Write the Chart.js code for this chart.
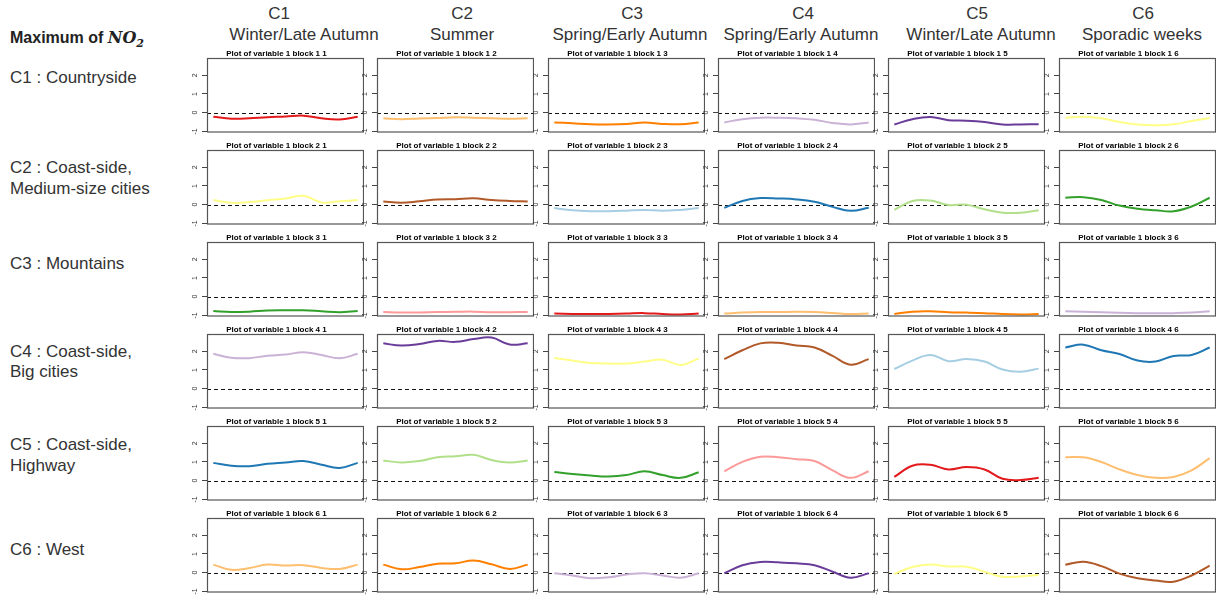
<!DOCTYPE html>
<html>
<head>
<meta charset="utf-8">
<script src="https://cdn.jsdelivr.net/npm/chart.js@4.4.1/dist/chart.umd.min.js"></script>
<style>
  body { margin: 0; background: #fff; width: 1219px; height: 596px; overflow: hidden; position: relative;
         font-family: "Liberation Sans", Arial, sans-serif; color: #333; }
  .lbl { position: absolute; left: 10px; font-size: 17px; line-height: 20px; white-space: nowrap; }
  .hd { position: absolute; font-size: 17px; line-height: 20px; white-space: nowrap; transform: translateX(-50%); }
  canvas { position: absolute; }
</style>
</head>
<body>
<div class="lbl" style="top:28px;font-weight:bold;font-size:16px;color:#222">Maximum of <i style="font-family:'DejaVu Serif',serif;font-weight:bold">NO<sub style="font-size:11px">2</sub></i></div>
<script>
var colHeads = ["C1", "C2", "C3", "C4", "C5", "C6"];
var colNames = ["Winter/Late Autumn", "Summer", "Spring/Early Autumn", "Spring/Early Autumn", "Winter/Late Autumn", "Sporadic weeks"];
var rowNames = [
  ["C1 : Countryside"],
  ["C2 : Coast-side,", "Medium-size cities"],
  ["C3 : Mountains"],
  ["C4 : Coast-side,", "Big cities"],
  ["C5 : Coast-side,", "Highway"],
  ["C6 : West"]
];
var yTicks = [-1, 0, 1, 2];
var refValue = 0;
var weeks = [0, 1, 2, 3, 4, 5, 6, 7, 8];

var row1 = [
  [-0.22, -0.32, -0.3, -0.24, -0.21, -0.16, -0.3, -0.36, -0.22],
  [-0.3, -0.35, -0.31, -0.28, -0.25, -0.27, -0.3, -0.33, -0.3],
  [-0.52, -0.57, -0.62, -0.63, -0.6, -0.52, -0.6, -0.62, -0.52],
  [-0.52, -0.35, -0.27, -0.27, -0.3, -0.38, -0.55, -0.63, -0.52],
  [-0.63, -0.35, -0.23, -0.4, -0.43, -0.5, -0.63, -0.63, -0.62],
  [-0.28, -0.22, -0.3, -0.5, -0.63, -0.67, -0.62, -0.45, -0.28]
];
var row2 = [
  [0.25, 0.1, 0.14, 0.24, 0.33, 0.47, 0.12, 0.18, 0.25],
  [0.17, 0.1, 0.18, 0.27, 0.29, 0.34, 0.25, 0.2, 0.17],
  [-0.18, -0.3, -0.35, -0.35, -0.32, -0.28, -0.33, -0.28, -0.18],
  [-0.17, 0.2, 0.35, 0.33, 0.28, 0.15, -0.12, -0.33, -0.17],
  [-0.28, 0.2, 0.22, -0.02, 0.0, -0.25, -0.43, -0.43, -0.3],
  [0.37, 0.4, 0.25, -0.05, -0.22, -0.3, -0.35, -0.1, 0.37]
];
var row3 = [
  [-0.77, -0.82, -0.8, -0.74, -0.73, -0.73, -0.78, -0.83, -0.77],
  [-0.82, -0.84, -0.84, -0.82, -0.81, -0.8, -0.83, -0.83, -0.82],
  [-0.9, -0.92, -0.93, -0.92, -0.9, -0.88, -0.93, -0.95, -0.9],
  [-0.9, -0.85, -0.82, -0.82, -0.81, -0.82, -0.87, -0.93, -0.9],
  [-0.93, -0.8, -0.78, -0.83, -0.85, -0.88, -0.93, -0.95, -0.93],
  [-0.78, -0.8, -0.83, -0.86, -0.88, -0.89, -0.88, -0.85, -0.78]
];
var row4 = [
  [1.86, 1.65, 1.63, 1.76, 1.82, 1.95, 1.8, 1.62, 1.86],
  [2.42, 2.3, 2.38, 2.55, 2.5, 2.65, 2.73, 2.36, 2.42],
  [1.64, 1.5, 1.37, 1.34, 1.34, 1.45, 1.55, 1.26, 1.62],
  [1.58, 2.05, 2.42, 2.45, 2.3, 2.2, 1.75, 1.28, 1.58],
  [1.05, 1.5, 1.8, 1.47, 1.58, 1.45, 1.02, 0.9, 1.07],
  [2.2, 2.35, 2.05, 1.85, 1.5, 1.45, 1.75, 1.8, 2.2]
];
var row5 = [
  [0.95, 0.8, 0.77, 0.9, 0.97, 1.05, 0.85, 0.68, 0.95],
  [1.08, 0.97, 1.05, 1.25, 1.3, 1.38, 1.1, 0.97, 1.08],
  [0.46, 0.35, 0.27, 0.22, 0.3, 0.5, 0.3, 0.15, 0.45],
  [0.5, 1.0, 1.28, 1.25, 1.15, 1.05, 0.55, 0.15, 0.5],
  [0.2, 0.8, 0.85, 0.6, 0.73, 0.6, 0.1, 0.03, 0.15],
  [1.25, 1.25, 1.0, 0.6, 0.3, 0.15, 0.2, 0.55, 1.2]
];
var row6 = [
  [0.43, 0.15, 0.25, 0.43, 0.38, 0.4, 0.25, 0.2, 0.43],
  [0.43, 0.18, 0.3, 0.48, 0.5, 0.65, 0.45, 0.2, 0.43],
  [-0.03, -0.15, -0.3, -0.25, -0.1, -0.03, -0.15, -0.27, -0.03],
  [-0.03, 0.4, 0.57, 0.55, 0.5, 0.4, 0.05, -0.27, -0.03],
  [-0.07, 0.3, 0.43, 0.33, 0.32, 0.05, -0.22, -0.2, -0.12],
  [0.42, 0.58, 0.35, -0.05, -0.3, -0.42, -0.48, -0.15, 0.38]
];

var red = "#E31A1C", ltOrange = "#FDBF6F", orange = "#FF7F00", ltPurple = "#CAB2D6", purple = "#6A3D9A",
    yellow = "#FFFF88", ltBlue = "#A6CEE3", blue = "#1F78B4", ltGreen = "#B2DF8A", green = "#33A02C",
    pink = "#FB9A99", brown = "#B15928";
var row1Colors = [red, ltOrange, orange, ltPurple, purple, yellow];
var row2Colors = [yellow, brown, ltBlue, blue, ltGreen, green];
var row3Colors = [green, pink, red, ltOrange, orange, ltPurple];
var row4Colors = [ltPurple, purple, yellow, brown, ltBlue, blue];
var row5Colors = [blue, ltGreen, green, pink, red, ltOrange];
var row6Colors = [ltOrange, orange, ltPurple, purple, yellow, brown];

var rows = [row1, row2, row3, row4, row5, row6];
var rowColors = [row1Colors, row2Colors, row3Colors, row4Colors, row5Colors, row6Colors];

// layout
var boxLeft0 = 207, boxStepX = 170.3, boxW = 157;
var boxTop0 = 58, boxStepY = 92, boxH = 78;
var axisW = 18, titleH = 8, bottomPad = 4;
var headCenters = [[279, 304], [462, 462], [632, 630], [803, 801], [977, 981], [1143, 1142]];
var rowLabelY = [[78], [168, 189], [264], [352, 372], [445, 466], [550]];

function addDiv(cls, text, left, top) {
  var d = document.createElement("div");
  d.className = cls;
  d.textContent = text;
  if (left !== null) d.style.left = left + "px";
  d.style.top = top + "px";
  document.body.appendChild(d);
}

for (var c = 0; c < 6; c++) {
  addDiv("hd", colHeads[c], headCenters[c][0], 4);
  addDiv("hd", colNames[c], headCenters[c][1], 25);
}
for (var r = 0; r < 6; r++) {
  for (var k = 0; k < rowNames[r].length; k++) {
    addDiv("lbl", rowNames[r][k], null, rowLabelY[r][k] - 10);
  }
}

var framePlugin = {
  id: "frame",
  beforeDatasetsDraw: function (chart) {
    var a = chart.chartArea, ctx = chart.ctx;
    var y = Math.round(chart.scales.y.getPixelForValue(refValue)) + 0.5;
    ctx.save();
    ctx.setLineDash([4, 3]);
    ctx.strokeStyle = "#111";
    ctx.lineWidth = 1;
    ctx.beginPath();
    ctx.moveTo(a.left, y);
    ctx.lineTo(a.right, y);
    ctx.stroke();
    ctx.restore();
  },
  afterDraw: function (chart) {
    var a = chart.chartArea, ctx = chart.ctx;
    ctx.save();
    ctx.strokeStyle = "#555";
    ctx.lineWidth = 1.2;
    ctx.strokeRect(a.left + 0.5, a.top + 0.5, a.right - a.left - 1, a.bottom - a.top - 1);
    ctx.restore();
  }
};

function makePanel(r, c) {
  var cv = document.createElement("canvas");
  var left = Math.round(boxLeft0 + boxStepX * c) - axisW;
  var top = boxTop0 + boxStepY * r - titleH;
  cv.width = axisW + boxW;
  cv.height = titleH + boxH + bottomPad;
  cv.style.left = left + "px";
  cv.style.top = top + "px";
  document.body.appendChild(cv);

  var values = rows[r][c];
  new Chart(cv.getContext("2d"), {
    type: "line",
    data: {
      datasets: [{
        data: values.map(function (v, i) { return { x: weeks[i], y: v }; }),
        borderColor: rowColors[r][c],
        borderWidth: 2,
        pointRadius: 0,
        tension: 0.4,
        fill: false
      }]
    },
    options: {
      responsive: false,
      animation: false,
      devicePixelRatio: 1,
      layout: { padding: 0 },
      plugins: {
        legend: { display: false },
        tooltip: { enabled: false },
        title: {
          display: true,
          text: "Plot of variable 1 block " + (r + 1) + " " + (c + 1),
          color: "#000",
          padding: { top: 0, bottom: 0 },
          font: { size: 8, weight: "bold", family: "Liberation Sans", lineHeight: 1 }
        }
      },
      scales: {
        x: { type: "linear", display: false, min: -0.35, max: weeks.length - 1 + 0.35 },
        y: {
          min: -1.06,
          max: 2.92,
          afterBuildTicks: function (s) { s.ticks = yTicks.map(function (v) { return { value: v }; }); },
          afterFit: function (s) { s.width = axisW; },
          border: { display: false },
          grid: { drawOnChartArea: false, drawTicks: true, tickLength: 5, color: "#444" },
          ticks: {
            minRotation: 90, maxRotation: 90, crossAlign: "center", padding: 4, color: "#333",
            font: { size: 7, family: "Liberation Sans", lineHeight: 1 }
          }
        }
      }
    },
    plugins: [framePlugin]
  });
}

for (var rr = 0; rr < 6; rr++) {
  for (var cc = 0; cc < 6; cc++) {
    makePanel(rr, cc);
  }
}
</script>
</body>
</html>
